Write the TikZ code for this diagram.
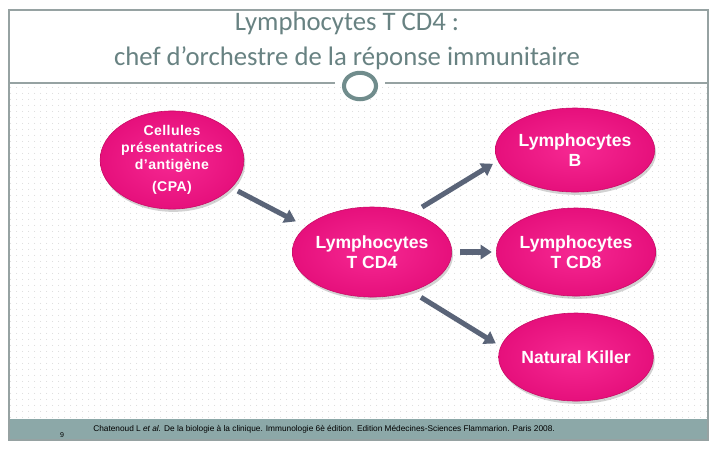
\documentclass[tikz,border=0pt]{standalone}
\usepackage{fontspec}
\setmainfont{Liberation Sans}
\newfontfamily\titlefont{Carlito}
\newfontfamily\cpafont{Liberation Sans}[LetterSpace=3]
\usepackage{tikz}
\usetikzlibrary{shapes,arrows.meta,positioning,shadows,patterns.meta}
\definecolor{framegray}{RGB}{150,162,162}
\definecolor{titlegray}{RGB}{104,130,130}
\definecolor{footgray}{RGB}{140,168,168}
\definecolor{dotgray}{RGB}{200,200,200}
\definecolor{cellpink}{RGB}{230,16,124}
\definecolor{cellhi}{RGB}{246,40,146}
\definecolor{cellrim}{RGB}{200,10,100}
\definecolor{arrowgray}{RGB}{90,100,120}
\definecolor{ringgray}{RGB}{112,140,140}

\begin{document}
\begin{tikzpicture}[x=0.025cm,y=-0.025cm,
 cellstyle/.style={ellipse,draw=cellrim,line width=0.4pt,inner color=cellhi,outer color=cellpink,
   minimum width=3.42cm,minimum height=2.2cm,inner sep=0pt,text=white,align=center,
   font=\bfseries\fontsize{12.5}{14}\selectfont,
   drop shadow={shadow xshift=1pt,shadow yshift=-2pt,opacity=0.35}},
 arrowstyle/.style={-{Triangle[width=10pt,length=8pt]},line width=3.6pt,draw=arrowgray}]
\useasboundingbox (0,0) rectangle (720,450);
\fill[white] (0,0) rectangle (720,450);
% slide frame
\fill[pattern={Dots[distance=4pt,radius=0.35pt]},pattern color=dotgray] (10,84) rectangle (707,419);
\fill[footgray] (9,419) rectangle (708,440);
\draw[framegray,line width=0.8pt] (9,10) rectangle (708,440);
\draw[framegray,line width=0.8pt] (9,83) -- (335,83) (385,83) -- (708,83);
\node[ellipse,draw=ringgray,line width=2.9pt,fill=white,minimum width=0.8cm,minimum height=0.66cm,inner sep=0pt] (ring) at (360,86) {};
% title
\node[font=\titlefont\fontsize{19}{25}\selectfont,text=titlegray,align=center] (title) at (347,41)
  {Lymphocytes T CD4 :\\chef d’orchestre de la réponse immunitaire};
% cells
\node[cellstyle,minimum width=3.375cm,minimum height=2.15cm,
  font=\cpafont\bfseries\fontsize{10}{12}\selectfont] (cpa) at (172,160)
  {Cellules\\présentatrices\\d’antigène\\[4pt](CPA)};
\node[cellstyle,minimum height=2.25cm] (tcd4) at (372,252) {Lymphocytes\\T CD4};
\node[cellstyle,minimum height=2.1cm] (lb) at (575,150) {Lymphocytes\\B};
\node[cellstyle] (tcd8) at (576,252) {Lymphocytes\\T CD8};
\node[cellstyle] (nk) at (576,357) {Natural Killer};
% arrows
\draw[arrowstyle,shorten <=5pt,shorten >=8pt] (cpa.-25) -- (tcd4.159);
\draw[arrowstyle,shorten <=8pt,shorten >=4pt] (tcd4.44) -- (lb.188);
\draw[arrowstyle,shorten <=6pt,shorten >=3pt] (tcd4.east) -- (tcd8.west);
\draw[arrowstyle,shorten <=8pt,shorten >=4pt] (tcd4.-45) -- (nk.172);
% footer
\node[anchor=west,font=\fontsize{5.9}{6}\selectfont,inner sep=0pt] (ref) at (93,429)
  {Chatenoud L \textit{et al.} De la biologie à la clinique. Immunologie 6è édition. Edition Médecines-Sciences Flammarion. Paris 2008.};
\node[font=\fontsize{5}{6}\selectfont,inner sep=0pt] (page) at (62,435) {9};
\end{tikzpicture}
\end{document}
